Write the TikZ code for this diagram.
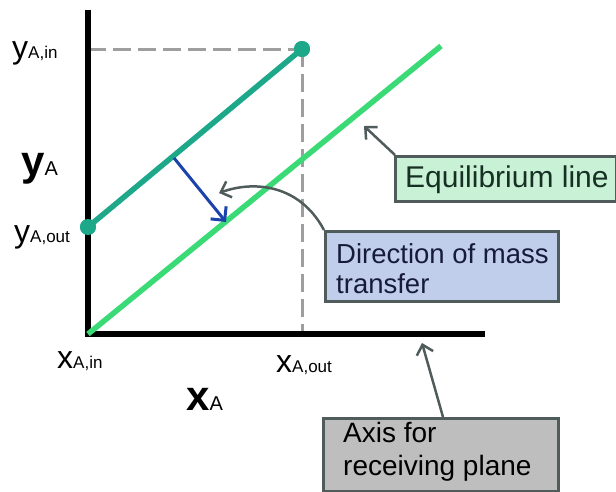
\documentclass[tikz,border=0pt]{standalone}
\usepackage{fontspec}
\setmainfont{Liberation Sans}
\usetikzlibrary{arrows.meta}
\definecolor{teal1}{RGB}{30,168,138}
\definecolor{green1}{RGB}{58,218,118}
\definecolor{dashgrey}{RGB}{158,158,158}
\definecolor{callout}{RGB}{80,92,92}
\definecolor{boxgreen}{RGB}{200,241,214}
\definecolor{boxblue}{RGB}{192,206,236}
\definecolor{boxgrey}{RGB}{190,190,190}
\definecolor{arrowblue}{RGB}{28,66,172}
\definecolor{txtgreen}{RGB}{22,48,36}
\definecolor{txtblue}{RGB}{22,28,56}
\tikzset{
  axisline/.style={line width=6pt, black},
  opline/.style={line width=5.5pt, teal1},
  eqline/.style={line width=5.5pt, green1},
  guide/.style={line width=3pt, dashgrey, dash pattern=on 18pt off 7pt},
  dotnode/.style={circle, fill=teal1, inner sep=0pt, minimum size=16pt},
  calloutbox/.style={draw=callout, line width=2.5pt, inner sep=0pt, anchor=north west},
  calloutarrow/.style={callout, line width=2.5pt, -{Straight Barb[length=9pt,width=17pt,line width=2.5pt]}},
  lbl/.style={anchor=base west, inner sep=0pt, black},
  boxtxt/.style={align=left, anchor=base west, inner sep=0pt},
}
\newcommand{\lblbig}[1]{{\fontsize{32}{32}\selectfont #1}}
\newcommand{\lblsub}[1]{{\fontsize{17}{17}\selectfont #1}}
\begin{document}
\begin{tikzpicture}[x=1pt,y=-1pt]
\useasboundingbox (0,0) rectangle (616,491);
% coordinates
\coordinate (O) at (88,334);
\coordinate (ytop) at (88,10);
\coordinate (xend) at (485,334);
\coordinate (eqend) at (441,46);
\coordinate (xout) at (302,336);
% dashed guides
\node[dotnode] (pin) at (302,49) {};
\node[dotnode] (pout) at (88,227) {};
\draw[guide] (88,49) -- (pin.center);
\draw[guide] (pin.center) -- (xout);
% axes
\draw[axisline] (ytop) -- (88,337);
\draw[axisline] (85,334) -- (xend);
% lines
\draw[eqline] (O) -- (eqend);
\draw[opline] (pout.center) -- (pin.center);
\node[dotnode] at (pin) {};
\node[dotnode] at (pout) {};
% blue arrow
\coordinate (bstart) at (174,158);
\coordinate (bend) at (226,222);
\draw[arrowblue, line width=3pt, -{Straight Barb[length=10pt,width=20pt,line width=3pt]}] (bstart) -- (bend);
% boxes
\node[calloutbox, fill=boxgreen, minimum width=221pt, minimum height=45pt] (eqbox) at (394,155) {};
\node[boxtxt, txtgreen, font=\fontsize{30}{34}\selectfont] at (405,187) {Equilibrium line};
\node[calloutbox, fill=boxblue, minimum width=233pt, minimum height=70pt] (dirbox) at (324,230) {};
\node[boxtxt, txtblue, font=\fontsize{27.5}{30}\selectfont] at (336,293) {Direction of mass\\transfer};
\node[calloutbox, fill=boxgrey, minimum width=235pt, minimum height=73pt] (axbox) at (322,417) {};
\node[boxtxt, black, font=\fontsize{28}{33}\selectfont] at (343,475) {Axis for\\receiving plane};
% callout arrows
\coordinate (eqtip) at (364,126);
\coordinate (dirtip) at (219,193);
\coordinate (axtip) at (422,343);
\draw[calloutarrow] (eqbox.north west) ++(1,0) -- (eqtip);
\draw[calloutarrow] (dirbox.north west) .. controls (300,185) and (255,180) .. (dirtip);
\draw[calloutarrow] (axbox.north west) ++(121,0) -- (axtip);
% labels
\node[lbl] (yin) at (12,58) {\lblbig{y}\lblsub{A,in}};
\node[lbl] (yA) at (21,175) {{\fontsize{42}{42}\selectfont\bfseries y}{\fontsize{20}{20}\selectfont A}};
\node[lbl] (yout) at (14,242) {\lblbig{y}\lblsub{A,out}};
\node[lbl] (xin) at (57,368) {\lblbig{x}\lblsub{A,in}};
\node[lbl] (xoutl) at (276,372) {\lblbig{x}\lblsub{A,out}};
\node[lbl] (xA) at (186,410) {{\fontsize{42}{42}\selectfont\bfseries x}{\fontsize{20}{20}\selectfont A}};
\end{tikzpicture}
\end{document}
